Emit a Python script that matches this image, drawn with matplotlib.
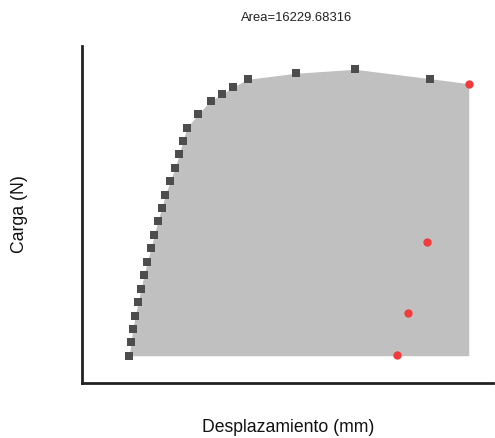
import numpy as np
import matplotlib.pyplot as plt

# load-displacement curve (mm, N)
desplazamiento = [1.185, 1.228, 1.271, 1.336, 1.404, 1.479, 1.554, 1.637, 1.729,
                  1.812, 1.897, 1.997, 2.088, 2.213, 2.331, 2.439, 2.524, 2.632,
                  2.907, 3.226, 3.516, 3.777, 4.153, 5.356, 6.835, 8.729]
carga = [211.5, 323.6, 434.8, 546.0, 660.5, 771.7, 886.3, 997.5, 1109.5,
         1220.7, 1335.3, 1446.5, 1557.7, 1669.7, 1783.4, 1895.5, 2006.7, 2117.9,
         2229.9, 2343.6, 2399.7, 2455.7, 2522.6, 2572.7, 2606.2, 2527.6]

# points after the peak (fracture)
desp_rotura = [9.692, 8.647, 8.178, 7.895]
carga_rotura = [2485.8, 1159.7, 566.0, 214.9]

area = 16229.68316

fig = plt.figure(figsize=(4.95, 4.39), dpi=100)
ax = fig.add_axes([0.1657, 0.1253, 0.8303, 0.7677])

# shaded area under the curve up to the first fracture point
xf = np.array(desplazamiento + desp_rotura[:1])
yf = np.array(carga + carga_rotura[:1])
ax.fill_between(xf, yf, min(carga), color='#c0c0c0', linewidth=0, zorder=1)

ax.plot(desplazamiento, carga, 's', color='#4d4d4d', markersize=5.2,
        markeredgewidth=0, zorder=3)
ax.plot(desp_rotura, carga_rotura, 'o', color='#f03c3c', markersize=6,
        markeredgewidth=0, zorder=3)

ax.set_xlim(0, 10.3)
ax.set_ylim(-16.7, 2801)
ax.set_xticks([])
ax.set_yticks([])
for s in ['top', 'right']:
    ax.spines[s].set_visible(False)
for s in ['left', 'bottom']:
    ax.spines[s].set_linewidth(2)
    ax.spines[s].set_color('#222222')

font = ['Liberation Sans', 'DejaVu Sans']
fig.text(297 / 495, 1 - 18 / 439, f'Area={area:.5f}', ha='center', va='center',
         fontsize=9.4, family=font, color='#222222')
fig.text(288 / 495, 1 - 428 / 439, 'Desplazamiento (mm)', ha='center', va='center',
         fontsize=12.7, family=font, color='#111111')
fig.text(19 / 495, 1 - 214 / 439, 'Carga (N)', ha='center', va='center',
         rotation=90, fontsize=12.7, family=font, color='#111111')

fig.savefig('out.png', dpi=100)
